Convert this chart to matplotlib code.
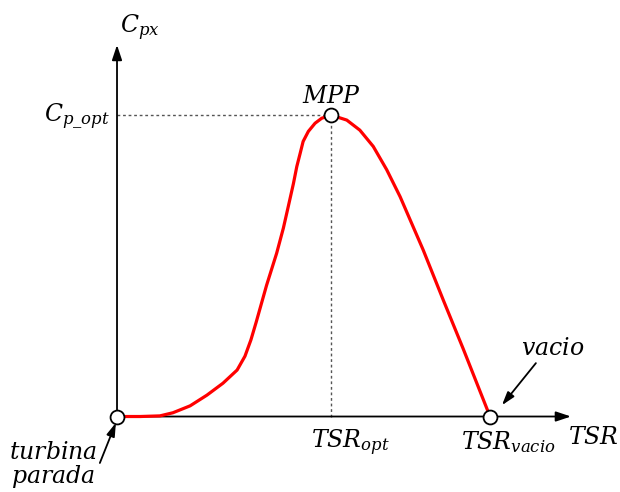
import matplotlib
matplotlib.use("Agg")
import matplotlib.pyplot as plt

plt.rcParams['mathtext.fontset'] = 'custom'
plt.rcParams['mathtext.it'] = 'DejaVu Serif:italic'
plt.rcParams['mathtext.rm'] = 'DejaVu Serif'
plt.rcParams['mathtext.sf'] = 'DejaVu Serif'

# Cp-TSR curve (schematic), TSR_vacio = 10, Cp_opt = 0.48
tsr = [0.0, 0.62, 1.15, 1.50, 1.96, 2.41, 2.84, 3.22, 3.43, 3.59, 3.73, 4.01,
       4.28, 4.46, 4.59, 4.73, 4.82, 4.91, 4.99, 5.13, 5.31, 5.49, 5.74, 6.16,
       6.51, 6.87, 7.23, 7.59, 7.94, 8.21, 8.75, 9.28, 9.64, 10.0]
cp = [0.0, 0.0, 0.001, 0.006, 0.017, 0.034, 0.053, 0.074, 0.096, 0.122, 0.150,
      0.209, 0.260, 0.300, 0.334, 0.371, 0.398, 0.419, 0.438, 0.454, 0.467,
      0.475, 0.480, 0.472, 0.456, 0.430, 0.393, 0.350, 0.302, 0.265, 0.185,
      0.108, 0.054, 0.0]
tsr_opt = 5.74
cp_opt = 0.48
tsr_vacio = 10.0

fig = plt.figure(figsize=(6.2, 4.92), dpi=100)
ax = fig.add_axes([0, 0, 1, 1])
ax.set_xlim(-3.137, 13.485)
ax.set_ylim(-0.1202, 0.6632)
ax.axis('off')

# axes arrows
arrow_kw = dict(arrowstyle='-|>,head_length=0.9,head_width=0.3', color='black', lw=1.3,
                shrinkA=0, shrinkB=0)
ax.annotate('', xy=(12.17, 0), xytext=(0, 0), arrowprops=arrow_kw, zorder=2)
ax.annotate('', xy=(0, 0.5916), xytext=(0, 0), arrowprops=arrow_kw, zorder=2)

# dotted guides
ax.plot([0, tsr_opt], [cp_opt, cp_opt], ls=(0, (2, 2)), color='#555555', lw=1.0, zorder=1)
ax.plot([tsr_opt, tsr_opt], [0, cp_opt], ls=(0, (2, 2)), color='#555555', lw=1.0, zorder=1)

# curve
ax.plot(tsr, cp, color='#ff0000', lw=2.3, zorder=3, solid_capstyle='round',
        solid_joinstyle='round')

# markers
ax.plot([0, tsr_opt, tsr_vacio], [0, cp_opt, 0], 'o', ms=10, mfc='white',
        mec='black', mew=1.3, zorder=4)

fs = 17
ax.text(0.62, 0.619, r'$C_{px}$', fontsize=fs, ha='center', va='center')
ax.text(-0.19, 0.48, r'$C_{p\_opt}$', fontsize=fs, ha='right', va='center')
ax.text(tsr_opt, 0.510, r'$MPP$', fontsize=fs, ha='center', va='center')
ax.text(6.27, -0.042, r'$TSR_{opt}$', fontsize=fs, ha='center', va='center')
ax.text(10.48, -0.041, r'$TSR_{vacio}$', fontsize=fs, ha='center', va='center')
ax.text(12.76, -0.033, r'$TSR$', fontsize=fs, ha='center', va='center')
ax.text(11.69, 0.109, r'$vacio$', fontsize=fs, ha='center', va='center')
ax.text(-1.72, -0.057, r'$turbina$', fontsize=fs, ha='center', va='center')
ax.text(-1.72, -0.096, r'$parada$', fontsize=fs, ha='center', va='center')

small_arrow = dict(arrowstyle='-|>,head_length=0.8,head_width=0.25', color='black', lw=1.3,
                   shrinkA=0, shrinkB=0)
ax.annotate('', xy=(10.32, 0.018), xytext=(11.23, 0.085), arrowprops=small_arrow)
ax.annotate('', xy=(-0.03, -0.010), xytext=(-0.46, -0.074), arrowprops=small_arrow)

fig.savefig('out.png', dpi=100)
